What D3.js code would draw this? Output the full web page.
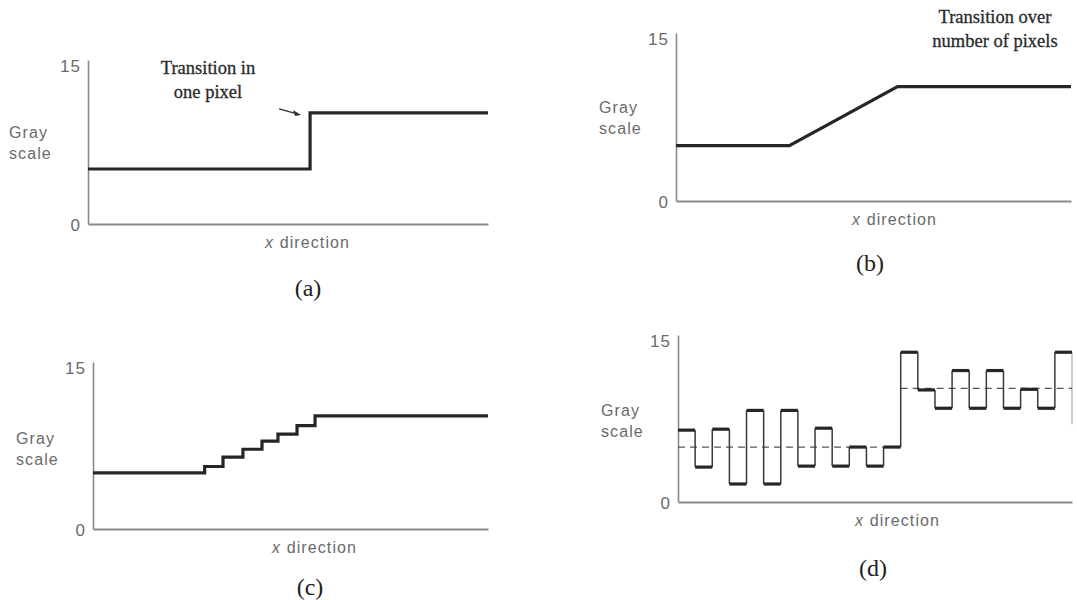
<!DOCTYPE html>
<html>
<head>
<meta charset="utf-8">
<script src="https://cdn.jsdelivr.net/npm/d3@7"></script>
<style>
  html, body { margin: 0; padding: 0; background: #fff; }
  svg { display: block; }
  .axis-lbl { font-family: "Liberation Sans", Arial, sans-serif; font-size: 16px; fill: #6a6a6a; letter-spacing: 1.1px; }
  .tick-lbl { font-family: "Liberation Sans", Arial, sans-serif; font-size: 17px; fill: #6a6a6a; letter-spacing: 1px; }
  .note { font-family: "Liberation Serif", "Times New Roman", serif; font-size: 18.5px; fill: #2a2a2a; stroke: #2a2a2a; stroke-width: 0.3px; }
  .cap { font-family: "Liberation Serif", "Times New Roman", serif; font-size: 24px; fill: #222; }
</style>
</head>
<body>
<svg id="chart" width="1077" height="600"></svg>
<script>
// Gray-level profiles along the x direction (pixel index 0..23, gray scale 0..15)
const yTicks = [0, 15];
const yTitle = ["Gray", "scale"];
const xTitleVar = "x";
const xTitleRest = " direction";
const xSpan = [0, 23];

// (a) abrupt edge: transition in one pixel
const aEdges = [0, 12.77, 23];
const aLevels = [5.2, 10.5, 10.5];

// (b) gradual edge: ramp over a number of pixels
const bX = [0, 6.6, 12.9, 23];
const bLevels = [5.1, 5.1, 10.55, 10.55];

// (c) quantised ramp: staircase
const cEdges = [0, 6.5, 7.57, 8.73, 9.84, 10.77, 11.88, 12.93, 23];
const cLevels = [5.2, 5.8, 6.67, 7.4, 8.15, 8.8, 9.6, 10.5, 10.5];

// (d) noisy edge: one level per pixel, plus region means
const dLevels = [6.67, 3.24, 6.76, 1.67, 8.5, 1.67, 8.5, 3.33, 6.85, 3.33, 5.1, 3.33, 5.1,
                 13.9, 10.4, 8.7, 12.2, 8.7, 12.2, 8.7, 10.46, 8.7, 13.9];
const dNext = 7.2;
const dMeanFrom = [0, 13];
const dMeanTo = [13, 23];
const dMeans = [5.1, 10.55];

const svg = d3.select("#chart");

function panel(opt) {
  const g = svg.append("g");
  const x = d3.scaleLinear().domain(xSpan).range([opt.left, opt.right]);
  const y = d3.scaleLinear().domain([0, 15.5]).range([opt.base, opt.top]);

  // y axis: vertical rule with 0 and 15 labels
  const ya = g.append("g").attr("transform", `translate(${opt.left},0)`)
    .call(d3.axisLeft(y).tickValues(yTicks).tickSize(0).tickSizeOuter(0).tickPadding(7));
  ya.select(".domain").attr("stroke", "#8a8a8a").attr("stroke-width", 1.6);
  ya.selectAll("text").attr("class", "tick-lbl").attr("font-size", null).attr("font-family", null)
    .attr("fill", null).attr("dy", "0.36em");

  // x axis: baseline only
  const xa = g.append("g").attr("transform", `translate(0,${opt.base})`)
    .call(d3.axisBottom(x).tickValues([]).tickSizeOuter(0));
  xa.select(".domain").attr("stroke", "#8a8a8a").attr("stroke-width", 2);

  // titles
  g.append("text").attr("class", "axis-lbl").attr("x", opt.yTitleX).attr("y", opt.yTitleY)
    .selectAll("tspan").data(yTitle).join("tspan")
    .attr("x", opt.yTitleX).attr("dy", (d, i) => i ? 21 : 0).text(d => d);
  const xt = g.append("text").attr("class", "axis-lbl").attr("x", opt.xTitleX).attr("y", opt.base + 24);
  xt.append("tspan").attr("font-style", "italic").text(xTitleVar);
  xt.append("tspan").text(xTitleRest);
  g.append("text").attr("class", "cap").attr("text-anchor", "middle")
    .attr("x", opt.capX).attr("y", opt.capY).text(opt.cap);

  return { g, x, y };
}

const profile = "#262626";

// ---- (a)
{
  const { g, x, y } = panel({ left: 88, right: 488, base: 224, top: 60,
    yTitleX: 9, yTitleY: 138, xTitleX: 265, capX: 308, capY: 296, cap: "(a)" });
  const pts = aEdges.map((e, i) => [e, aLevels[i]]);
  g.append("path").datum(pts)
    .attr("d", d3.line().x(d => x(d[0])).y(d => y(d[1])).curve(d3.curveStepAfter))
    .attr("fill", "none").attr("stroke", profile).attr("stroke-width", 3.2);
  g.append("text").attr("class", "note").attr("text-anchor", "middle").attr("x", 208).attr("y", 74)
    .selectAll("tspan").data(["Transition in", "one pixel"]).join("tspan")
    .attr("x", 208).attr("dy", (d, i) => i ? 24 : 0).text(d => d);
  // arrow pointing at the step
  const ax = x(aEdges[1]) - 9, ay = y(aLevels[1]) + 2;
  g.append("line").attr("x1", ax - 22).attr("y1", ay - 6).attr("x2", ax - 4).attr("y2", ay - 1)
    .attr("stroke", "#333").attr("stroke-width", 1.2);
  g.append("path").attr("d", `M${ax},${ay} L${ax - 8},${ay - 5} L${ax - 6},${ay + 1} Z`).attr("fill", "#333");
}

// ---- (b)
{
  const { g, x, y } = panel({ left: 676, right: 1071, base: 201, top: 33,
    yTitleX: 599, yTitleY: 113, xTitleX: 852, capX: 870, capY: 271, cap: "(b)" });
  const pts = bX.map((e, i) => [e, bLevels[i]]);
  g.append("path").datum(pts)
    .attr("d", d3.line().x(d => x(d[0])).y(d => y(d[1])))
    .attr("fill", "none").attr("stroke", profile).attr("stroke-width", 3.2);
  g.append("text").attr("class", "note").attr("text-anchor", "middle").attr("x", 995).attr("y", 23)
    .selectAll("tspan").data(["Transition over", "number of pixels"]).join("tspan")
    .attr("x", 995).attr("dy", (d, i) => i ? 24 : 0).text(d => d);
}

// ---- (c)
{
  const { g, x, y } = panel({ left: 93, right: 488, base: 529, top: 362,
    yTitleX: 16, yTitleY: 444, xTitleX: 272, capX: 310, capY: 595, cap: "(c)" });
  const pts = cEdges.map((e, i) => [e, cLevels[i]]);
  g.append("path").datum(pts)
    .attr("d", d3.line().x(d => x(d[0])).y(d => y(d[1])).curve(d3.curveStepAfter))
    .attr("fill", "none").attr("stroke", profile).attr("stroke-width", 3.2);
}

// ---- (d)
{
  const { g, x, y } = panel({ left: 678, right: 1072, base: 502, top: 335,
    yTitleX: 601, yTitleY: 416, xTitleX: 855, capX: 873, capY: 576, cap: "(d)" });
  // region means (dashed)
  g.selectAll("line.mean").data(dMeans).join("line").attr("class", "mean")
    .attr("x1", (d, i) => x(dMeanFrom[i])).attr("x2", (d, i) => x(dMeanTo[i]))
    .attr("y1", d => y(d)).attr("y2", d => y(d))
    .attr("stroke", "#555").attr("stroke-width", 1.2).attr("stroke-dasharray", "7,5");
  // vertical transitions between neighbouring pixels
  const nexts = dLevels.slice(1).concat([dNext]);
  g.selectAll("line.rise").data(dLevels).join("line").attr("class", "rise")
    .attr("x1", (d, i) => x(i + 1)).attr("x2", (d, i) => x(i + 1))
    .attr("y1", d => y(d)).attr("y2", (d, i) => y(nexts[i]))
    .attr("stroke", "#3a3a3a").attr("stroke-width", (d, i) => i === dLevels.length - 1 ? 1 : 1.5)
    .attr("stroke-opacity", (d, i) => i === dLevels.length - 1 ? 0.5 : 1);
  // one horizontal run per pixel
  g.selectAll("line.lvl").data(dLevels).join("line").attr("class", "lvl")
    .attr("x1", (d, i) => x(i)).attr("x2", (d, i) => x(i + 1))
    .attr("y1", d => y(d)).attr("y2", d => y(d))
    .attr("stroke", profile).attr("stroke-width", 3.2);
}
</script>
</body>
</html>
